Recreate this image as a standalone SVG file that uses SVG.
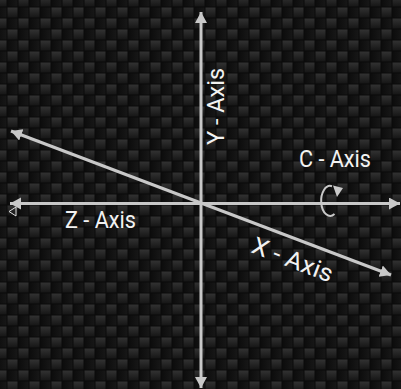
<svg xmlns="http://www.w3.org/2000/svg" width="401" height="389" viewBox="0 0 401 389">
<defs>
<linearGradient id="gOn" x1="0" y1="0" x2="0" y2="1"><stop offset="0" stop-color="#323232"/><stop offset="1" stop-color="#161616"/></linearGradient>
<linearGradient id="gOff" x1="0" y1="0" x2="1" y2="0"><stop offset="0" stop-color="#0c0c0c"/><stop offset="1" stop-color="#171717"/></linearGradient>
<pattern id="carbon" width="22" height="22" patternUnits="userSpaceOnUse" x="-4" y="-4">
<rect width="22" height="22" fill="#0a0a0a"/>
<rect x="0.5" y="0.5" width="10" height="10" fill="url(#gOn)"/>
<rect x="11.5" y="11.5" width="10" height="10" fill="url(#gOn)"/>
<rect x="11.5" y="0.5" width="10" height="10" fill="url(#gOff)"/>
<rect x="0.5" y="11.5" width="10" height="10" fill="url(#gOff)"/>
</pattern>
<marker id="ah" markerUnits="userSpaceOnUse" markerWidth="14" markerHeight="14" refX="11" refY="6" orient="auto">
<path d="M0,0 L11,6 L0,12 Z" fill="#c8c8c8"/>
</marker>
<style>
.axis{stroke:#c8c8c8;stroke-width:3;fill:none}
.lbl{font-family:Roboto,"Liberation Sans",sans-serif;font-size:24px;fill:#f2f2f2}
</style>
</defs>
<rect width="401" height="389" fill="url(#carbon)"/>
<g id="connectors">
<line class="axis" x1="201" y1="200" x2="201" y2="12" marker-end="url(#ah)"/>
<line class="axis" x1="201" y1="200" x2="201" y2="388" marker-end="url(#ah)"/>
<line class="axis" x1="201" y1="203.5" x2="10" y2="203.5" marker-end="url(#ah)"/>
<line class="axis" x1="201" y1="203.5" x2="400" y2="203.5" marker-end="url(#ah)"/>
<line class="axis" x1="201" y1="203" x2="11" y2="131" marker-end="url(#ah)"/>
<line class="axis" x1="201" y1="203" x2="391" y2="275" marker-end="url(#ah)"/>
</g>
<g id="y-axis"><text class="lbl" transform="translate(224,145) rotate(-90)" textLength="77" lengthAdjust="spacingAndGlyphs">Y - Axis</text></g>
<g id="z-axis"><text class="lbl" x="65" y="228" textLength="71" lengthAdjust="spacingAndGlyphs">Z - Axis</text></g>
<g id="c-axis">
<text class="lbl" x="299" y="167" textLength="72" lengthAdjust="spacingAndGlyphs">C - Axis</text>
<path d="M334.5,214 A9,15 0 1,1 332,186.2" fill="none" stroke="#c8c8c8" stroke-width="2"/>
<path d="M333,185.5 L343,188 L337,197 Z" fill="#c8c8c8"/>
</g>
<g id="x-axis"><text class="lbl" transform="translate(250,252) rotate(21)" textLength="85" lengthAdjust="spacingAndGlyphs">X - Axis</text></g>
<polygon points="9,211.5 16,207 16,216" fill="none" stroke="#e0e0e0" stroke-width="1"/>
</svg>
